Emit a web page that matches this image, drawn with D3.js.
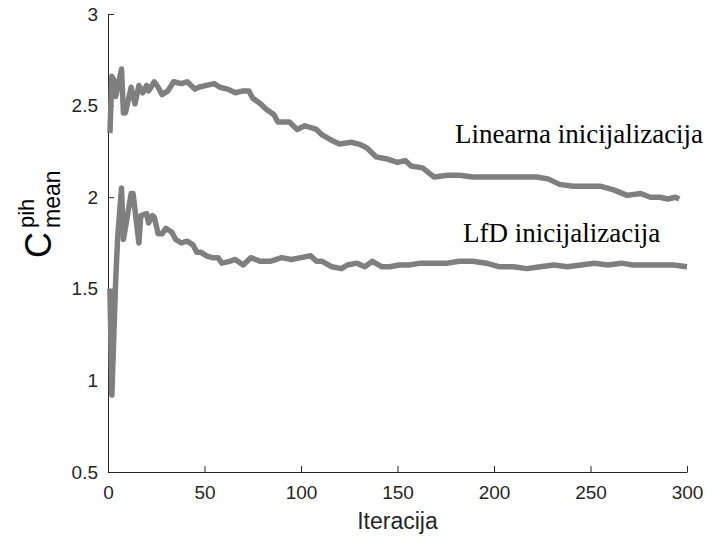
<!DOCTYPE html>
<html>
<head>
<meta charset="utf-8">
<script src="https://cdn.jsdelivr.net/npm/d3@7"></script>
<style>
  html, body { margin: 0; padding: 0; background: #fff; }
  svg { display: block; }
</style>
</head>
<body>
<svg id="chart" width="712" height="540"></svg>
<script>
// ---- data ----
const linearIter = [1,2,3,4,7,8,9,12,14,16,18,20,21,24,26,28,31,34,38,41,45,47,51,55,58,62,66,70,73,75,79,82,86,88,94,98,102,108,111,116,120,126,130,134,139,144,150,154,157,163,169,176,182,189,196,203,210,217,222,228,234,241,248,255,262,269,276,281,286,290,294,296];
const linearVals = [2.35,2.66,2.64,2.55,2.70,2.46,2.46,2.60,2.51,2.61,2.57,2.61,2.58,2.63,2.60,2.56,2.58,2.63,2.62,2.63,2.59,2.60,2.61,2.62,2.60,2.59,2.57,2.58,2.58,2.54,2.51,2.48,2.45,2.41,2.41,2.37,2.39,2.37,2.34,2.31,2.29,2.30,2.29,2.27,2.22,2.21,2.19,2.20,2.17,2.16,2.11,2.12,2.12,2.11,2.11,2.11,2.11,2.11,2.11,2.10,2.07,2.06,2.06,2.06,2.04,2.01,2.02,2.00,2.00,1.99,2.00,1.99];

const lfdIter = [1,2,3,4,5,7,8,12,13,16,17,20,21,23,24,26,28,30,33,35,38,41,44,46,48,51,54,57,59,63,66,70,74,79,84,90,95,100,105,108,111,116,121,124,129,133,137,142,146,151,156,162,169,176,182,189,196,203,210,217,224,231,238,245,252,259,266,272,279,286,293,300];
const lfdVals = [1.50,0.92,1.24,1.55,1.78,2.05,1.77,2.02,2.02,1.75,1.90,1.91,1.86,1.90,1.89,1.80,1.80,1.83,1.81,1.77,1.75,1.76,1.74,1.70,1.70,1.68,1.67,1.67,1.64,1.65,1.66,1.63,1.67,1.65,1.65,1.67,1.66,1.67,1.68,1.65,1.65,1.62,1.61,1.63,1.64,1.62,1.65,1.62,1.62,1.63,1.63,1.64,1.64,1.64,1.65,1.65,1.64,1.62,1.62,1.61,1.62,1.63,1.62,1.63,1.64,1.63,1.64,1.63,1.63,1.63,1.63,1.62];

const xTicks = [0, 50, 100, 150, 200, 250, 300];
const yTicks = [0.5, 1, 1.5, 2, 2.5, 3];
const xLabel = "Iteracija";
const annotations = ["Linearna inicijalizacija", "LfD inicijalizacija"];

// ---- layout ----
const svg = d3.select("#chart");
const mLeft = 108, mRight = 687, mTop = 14, mBottom = 472;
const x = d3.scaleLinear().domain([0, 300]).range([mLeft, mRight]);
const y = d3.scaleLinear().domain([0.5, 3]).range([mBottom, mTop]);
const axisColor = "#262626";
const lineColor = "#7f7f7f";

// x axis
const gx = svg.append("g").attr("transform", `translate(0,${mBottom})`)
  .call(d3.axisBottom(x).tickValues(xTicks).tickFormat(d3.format("d")).tickSizeInner(-6).tickSizeOuter(0).tickPadding(14));
// y axis
const gy = svg.append("g").attr("transform", `translate(${mLeft},0)`)
  .call(d3.axisLeft(y).tickValues(yTicks).tickFormat(d => String(d)).tickSizeInner(-6).tickSizeOuter(0).tickPadding(10));

[gx, gy].forEach(g => {
  g.select(".domain").attr("stroke", axisColor).attr("stroke-width", 1);
  g.selectAll(".tick line").attr("stroke", axisColor).attr("stroke-width", 1);
  g.selectAll(".tick text").attr("fill", axisColor)
    .style("font-family", "'Liberation Sans', Arial, sans-serif").style("font-size", "19px");
});

// lines
const line = d3.line().x(d => x(d[0])).y(d => y(d[1]));
const series = [
  d3.zip(linearIter, linearVals),
  d3.zip(lfdIter, lfdVals)
];
svg.append("g").selectAll("path").data(series).join("path")
  .attr("d", line)
  .attr("fill", "none")
  .attr("stroke", lineColor)
  .attr("stroke-width", 5.5)
  .attr("stroke-linejoin", "round")
  .attr("stroke-linecap", "butt");

// annotations
const serif = "'Liberation Serif', 'Times New Roman', serif";
svg.append("text").attr("x", 455).attr("y", 142.5).text(annotations[0])
  .style("font-family", serif).style("font-size", "27px").attr("fill", "#000");
svg.append("text").attr("x", 463).attr("y", 241.5).text(annotations[1])
  .style("font-family", serif).style("font-size", "27px").attr("fill", "#000");

// x label
svg.append("text").attr("x", (mLeft + mRight) / 2).attr("y", 529).attr("text-anchor", "middle")
  .text(xLabel).attr("fill", axisColor)
  .style("font-family", "'Liberation Sans', Arial, sans-serif").style("font-size", "23px");

// y label: C^{pih}_{mean}
const yl = svg.append("g").attr("transform", "translate(51,258) rotate(-90)")
  .style("font-family", "'Liberation Sans', Arial, sans-serif").attr("fill", "#000");
yl.append("text").attr("x", 0).attr("y", 0).style("font-size", "36px").text("C");
yl.append("text").attr("x", 30).attr("y", -17).style("font-size", "22px").text("pih");
yl.append("text").attr("x", 30).attr("y", 9).style("font-size", "23px").text("mean");
</script>
</body>
</html>
